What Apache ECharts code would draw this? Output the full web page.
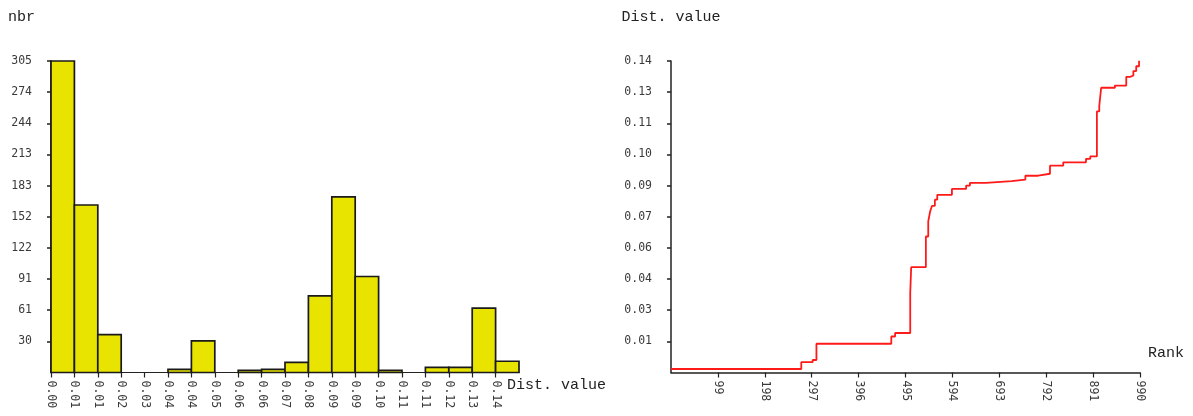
<!DOCTYPE html>
<html>
  <head>
    <meta charset="UTF-8" />
    <title>Dist. value histogram and rank curve</title>
    <script src="https://cdn.jsdelivr.net/npm/echarts@6/dist/echarts.min.js"></script>
    <style>
      html, body { margin: 0; padding: 0; background: #fff; }
      #main { width: 1193px; height: 416px; }
    </style>
  </head>
  <body>
    <div id="main"></div>
    <script>
      // histogram: one bar per bin, bin labels sit at the left edge of each bar
      const binLabels = ["0.00", "0.01", "0.01", "0.02", "0.03", "0.04", "0.04", "0.05", "0.06", "0.06",
                         "0.07", "0.08", "0.09", "0.09", "0.10", "0.11", "0.11", "0.12", "0.13", "0.14"]
      const binCounts = [305, 164, 37, 0, 0, 3, 31, 0, 2, 3, 10, 75, 172, 94, 2, 0, 5, 5, 63, 11]
      const nbrTickValues = [30.5, 61, 91.5, 122, 152.5, 183, 213.5, 244, 274.5, 305]
      const nbrTickLabels = ["30", "61", "91", "122", "152", "183", "213", "244", "274", "305"]

      // sorted distance values (step curve), read where the value changes
      const rankPts = [0, 275, 299, 307, 465, 473, 505, 507, 538, 543, 547, 551, 557, 562, 593, 623, 631,
                       665, 719, 748, 775, 800, 828, 876, 885, 899, 904, 908, 937, 961, 969, 976, 982, 988]
      const distPts = [0.0016, 0.0047, 0.0057, 0.0131, 0.0164, 0.018, 0.0363, 0.048, 0.062, 0.0689, 0.0734,
                       0.076, 0.0788, 0.081, 0.0837, 0.0852, 0.0864, 0.0872, 0.0879, 0.0897, 0.0906, 0.0943,
                       0.0958, 0.0974, 0.0985, 0.119, 0.1214, 0.1298, 0.1308, 0.1348, 0.1354, 0.1374, 0.1396, 0.1421]
      const rankTicks = [99, 198, 297, 396, 495, 594, 693, 792, 891, 990]
      const distTickValues = [0.0142, 0.0284, 0.0426, 0.0568, 0.071, 0.0852, 0.0994, 0.1136, 0.1278, 0.142]
      const distTickLabels = ["0.01", "0.03", "0.04", "0.06", "0.07", "0.09", "0.10", "0.11", "0.13", "0.14"]

      const FONT = "'Liberation Mono', 'DejaVu Sans Mono', monospace"
      const axisColor = "#222"
      const labelStyle = { fontFamily: "'DejaVu Sans Mono', monospace", fontSize: 11.5, color: "#3a3a3a" }
      const nameStyle = { fontFamily: FONT, fontSize: 15, color: "#222" }

      const chart = echarts.init(document.getElementById("main"))
      chart.setOption({
        animation: false,
        grid: [
          { left: 51, right: 674, top: 61, bottom: 43.5, outerBoundsMode: "none" },
          { left: 671, right: 53, top: 61, bottom: 43.5, outerBoundsMode: "none" },
        ],
        xAxis: [
          {
            gridIndex: 0,
            type: "value",
            min: 0,
            max: binLabels.length,
            name: "Dist. value",
            nameLocation: "end",
            nameGap: -12,
            nameTextStyle: { ...nameStyle, align: "left", verticalAlign: "top", padding: [5, 0, 0, 0] },
            splitLine: { show: false },
            axisLine: { lineStyle: { color: axisColor, width: 1.2 } },
            axisTick: { customValues: binLabels.map((_, i) => i), length: 5, lineStyle: { color: axisColor, width: 1.2 } },
            axisLabel: {
              ...labelStyle,
              customValues: binLabels.map((_, i) => i),
              rotate: -90,
              margin: 8,
              formatter: (v) => binLabels[Math.round(v)] || "",
            },
          },
          {
            gridIndex: 1,
            type: "value",
            min: 0,
            max: 990,
            name: "Rank",
            nameLocation: "end",
            nameGap: 8,
            nameTextStyle: { ...nameStyle, align: "left", verticalAlign: "bottom", padding: [0, 0, 12, 0] },
            splitLine: { show: false },
            axisLine: { lineStyle: { color: axisColor, width: 1.5 } },
            axisTick: { customValues: rankTicks, length: 5, lineStyle: { color: axisColor, width: 1.2 } },
            axisLabel: { ...labelStyle, customValues: rankTicks, rotate: -90, margin: 8 },
          },
        ],
        yAxis: [
          {
            gridIndex: 0,
            type: "value",
            min: 0,
            max: 305,
            name: "nbr",
            nameLocation: "end",
            nameGap: 36,
            nameTextStyle: { ...nameStyle, align: "right", padding: [0, 16, 0, 0] },
            splitLine: { show: false },
            axisLine: { show: true, lineStyle: { color: axisColor, width: 1.5 } },
            axisTick: { show: true, customValues: nbrTickValues, length: 4, lineStyle: { color: axisColor, width: 1.5 } },
            axisLabel: {
              ...labelStyle,
              customValues: nbrTickValues,
              margin: 19,
              formatter: (v) => nbrTickLabels[nbrTickValues.indexOf(v)] || "",
            },
          },
          {
            gridIndex: 1,
            type: "value",
            min: 0,
            max: 0.142,
            name: "Dist. value",
            nameLocation: "end",
            nameGap: 36,
            nameTextStyle: { ...nameStyle, align: "center" },
            splitLine: { show: false },
            axisLine: { show: true, lineStyle: { color: axisColor, width: 1.5 } },
            axisTick: { show: true, customValues: distTickValues, length: 4, lineStyle: { color: axisColor, width: 1.5 } },
            axisLabel: {
              ...labelStyle,
              customValues: distTickValues,
              margin: 19,
              formatter: (v) => distTickLabels[distTickValues.indexOf(v)] || "",
            },
          },
        ],
        series: [
          {
            type: "custom",
            xAxisIndex: 0,
            yAxisIndex: 0,
            data: binCounts.map((c, i) => [i, c]),
            renderItem: (params, api) => {
              const i = api.value(0)
              const c = api.value(1)
              if (!c) return null
              const p0 = api.coord([i, c])
              const p1 = api.coord([i + 1, 0])
              return {
                type: "rect",
                shape: { x: p0[0], y: p0[1], width: p1[0] - p0[0], height: p1[1] - p0[1] },
                style: { fill: "#e8e400", stroke: "#1a1a1a", lineWidth: 1.7 },
              }
            },
          },
          {
            type: "line",
            xAxisIndex: 1,
            yAxisIndex: 1,
            step: "end",
            symbol: "none",
            data: rankPts.map((r, i) => [r, distPts[i]]),
            lineStyle: { color: "#ff1a1a", width: 1.8 },
          },
        ],
      })
    </script>
  </body>
</html>
